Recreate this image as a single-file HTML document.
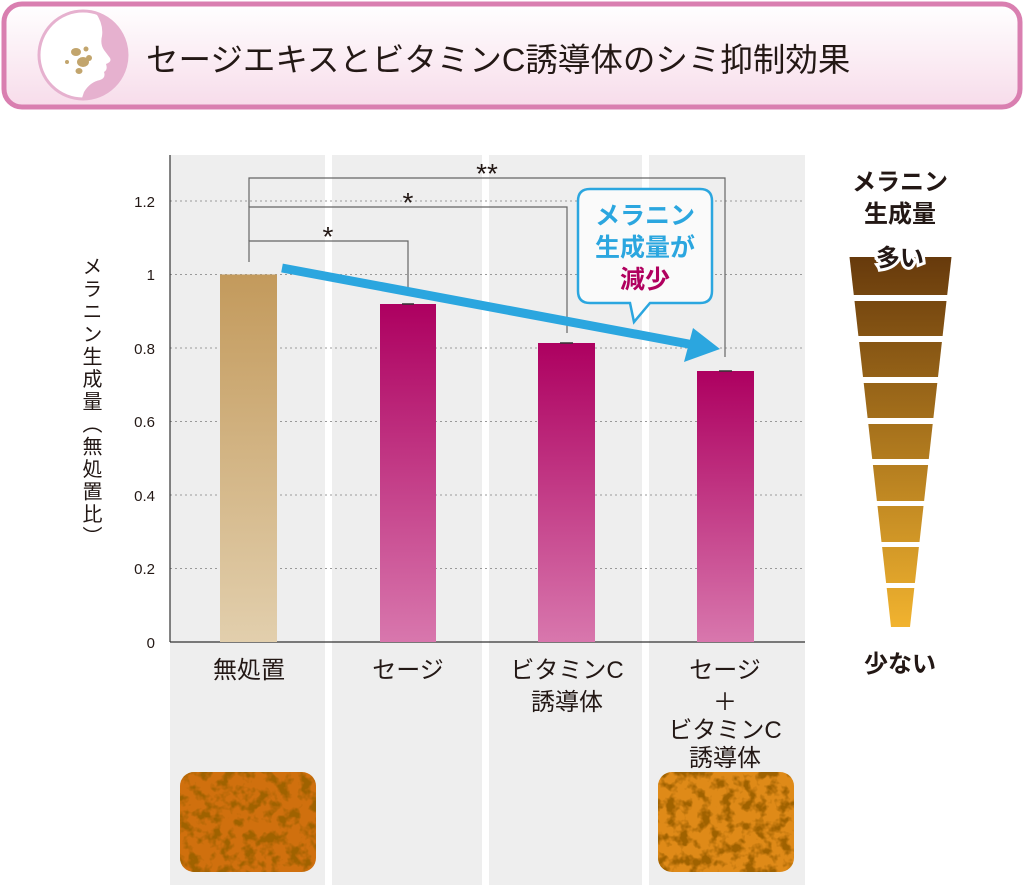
<!DOCTYPE html>
<html><head><meta charset="utf-8"><style>
body{margin:0;width:1024px;height:895px;background:#fff;overflow:hidden;position:relative}
svg{display:block}
text{font-family:"Liberation Sans","Noto Sans CJK JP",sans-serif}
.yl{position:absolute;left:76px;top:256px;writing-mode:vertical-rl;font-family:"Liberation Sans","Noto Sans CJK JP",sans-serif;font-size:20px;color:#231815;letter-spacing:2.5px;line-height:28px}
</style></head><body>
<svg width="1024" height="895" viewBox="0 0 1024 895">
<defs>
<linearGradient id="hdr" x1="0" y1="0" x2="0" y2="1"><stop offset="0" stop-color="#fff"/><stop offset="1" stop-color="#f7dcea"/></linearGradient>
<linearGradient id="tan" x1="0" y1="0" x2="0" y2="1"><stop offset="0" stop-color="#c39a5c"/><stop offset="1" stop-color="#e2cfad"/></linearGradient>
<linearGradient id="mag" x1="0" y1="0" x2="0" y2="1"><stop offset="0" stop-color="#ad0060"/><stop offset="1" stop-color="#d877ad"/></linearGradient>
<linearGradient id="fun" x1="0" y1="257" x2="0" y2="627" gradientUnits="userSpaceOnUse"><stop offset="0" stop-color="#673a0c"/><stop offset="1" stop-color="#f1b32f"/></linearGradient>
<filter id="tex" x="0" y="0" width="1" height="1"><feTurbulence type="fractalNoise" baseFrequency="0.09" numOctaves="3" seed="3"/><feColorMatrix values="0 0 0 0 0.35  0 0 0 0 0.12  0 0 0 0 0.0  0 0 0 -4 2.2"/><feComposite in2="SourceGraphic" operator="in"/></filter>
<clipPath id="c1"><rect x="180" y="772" width="136" height="100" rx="14"/></clipPath>
<clipPath id="c2"><rect x="658" y="772" width="136" height="100" rx="14"/></clipPath>
<clipPath id="cc"><circle cx="83" cy="55" r="43"/></clipPath>
</defs>
<rect x="4" y="4" width="1016" height="103" rx="18" fill="url(#hdr)" stroke="#d97fb0" stroke-width="5"/>
<circle cx="83" cy="55" r="44" fill="#fff" stroke="#e6b1cf" stroke-width="3"/>
<path clip-path="url(#cc)" d="M92 8 Q104 22 102 36 Q100 44 104 50 L110 58 Q112 62 106 64 Q108 70 104 72 Q106 78 100 80 Q90 82 84 92 L80 104 L140 104 L140 8Z" fill="#e6b1cf"/>
<g fill="#c2a56d"><ellipse cx="76" cy="52" rx="5" ry="4"/><circle cx="86" cy="49" r="2.5"/><ellipse cx="83" cy="62" rx="6" ry="5"/><ellipse cx="79" cy="71" rx="3.5" ry="3"/><circle cx="67" cy="62" r="2"/><circle cx="89" cy="58" r="3"/></g>
<text x="146" y="71" font-size="32.5" fill="#231815">セージエキスとビタミンC誘導体のシミ抑制効果</text>
<g fill="#eeeeee"><rect x="170" y="155" width="155" height="730"/><rect x="332" y="155" width="150" height="730"/><rect x="489" y="155" width="153" height="730"/><rect x="649" y="155" width="156" height="730"/></g>
<g stroke="#999" stroke-dasharray="2,3" stroke-width="1"><line x1="170" y1="201" x2="805" y2="201"/><line x1="170" y1="274.5" x2="805" y2="274.5"/><line x1="170" y1="348" x2="805" y2="348"/><line x1="170" y1="421.5" x2="805" y2="421.5"/><line x1="170" y1="495" x2="805" y2="495"/><line x1="170" y1="568.5" x2="805" y2="568.5"/></g>
<line x1="170" y1="155" x2="170" y2="642" stroke="#333" stroke-width="1.2"/>
<line x1="170" y1="642" x2="805" y2="642" stroke="#333" stroke-width="1.2"/>
<g font-size="15" fill="#231815" text-anchor="end"><text x="155" y="207">1.2</text><text x="155" y="280">1</text><text x="155" y="354">0.8</text><text x="155" y="427">0.6</text><text x="155" y="501">0.4</text><text x="155" y="574">0.2</text><text x="155" y="648">0</text></g>
<rect x="220" y="274.5" width="57" height="367.5" fill="url(#tan)"/>
<rect x="380" y="304" width="56" height="338" fill="url(#mag)"/>
<rect x="538" y="343" width="57" height="299" fill="url(#mag)"/>
<rect x="697" y="371" width="57" height="271" fill="url(#mag)"/>
<g stroke="#333" stroke-width="1.5"><line x1="402" y1="304" x2="414" y2="304"/><line x1="560" y1="343" x2="573" y2="343"/><line x1="719" y1="371" x2="732" y2="371"/></g>
<g fill="none" stroke="#666" stroke-width="1.2"><path d="M249 262V241H408V296"/><path d="M249 241V207H567V333"/><path d="M249 207V178H725V357"/></g>
<g font-size="28" fill="#231815" text-anchor="middle"><text x="328" y="246">*</text><text x="408" y="212">*</text><text x="487" y="183">**</text></g>
<line x1="282" y1="268" x2="694" y2="345" stroke="#2ba6df" stroke-width="9"/>
<polygon points="720,349 684,362 693,328" fill="#2ba6df"/>
<path d="M590 189H700Q712 189 712 201V291Q712 303 700 303H650L634 322L630 303H590Q578 303 578 291V201Q578 189 590 189Z" fill="#fafafa" stroke="#2ba6df" stroke-width="2.5"/>
<g font-size="25" font-weight="bold" text-anchor="middle"><text x="645" y="224" fill="#2ba6df">メラニン</text><text x="645" y="256" fill="#2ba6df">生成量が</text><text x="645" y="288" fill="#b0005f">減少</text></g>
<g font-size="24" fill="#231815" text-anchor="middle"><text x="249" y="678">無処置</text><text x="408" y="678">セージ</text><text x="567" y="678">ビタミンC</text><text x="567" y="710">誘導体</text><text x="725" y="678">セージ</text><text x="725" y="710">＋</text><text x="725" y="738">ビタミンC</text><text x="725" y="766">誘導体</text></g>
<g clip-path="url(#c1)"><rect x="180" y="772" width="136" height="100" fill="#d0700e"/><rect x="180" y="772" width="136" height="100" fill="#000" filter="url(#tex)"/></g>
<g clip-path="url(#c2)"><rect x="658" y="772" width="136" height="100" fill="#df8a18"/><rect x="658" y="772" width="136" height="100" fill="#000" filter="url(#tex)"/></g>
<g font-size="24" font-weight="bold" fill="#231815" text-anchor="middle"><text x="900" y="190">メラニン</text><text x="900" y="222">生成量</text></g>
<g fill="url(#fun)">
<polygon points="849.5,257 951.5,257 947.2,295 853.8,295"/>
<polygon points="854.5,301 946.5,301 942.6,336 858.4,336"/>
<polygon points="859.1,342 941.9,342 938,377 863,377"/>
<polygon points="863.7,383 937.3,383 933.4,418 867.6,418"/>
<polygon points="868.3,424 932.7,424 928.8,459 872.2,459"/>
<polygon points="872.9,465 928.1,465 924.1,501 876.9,501"/>
<polygon points="877.5,506 923.5,506 919.5,542 881.5,542"/>
<polygon points="882.1,547 918.9,547 914.9,583 886.1,583"/>
<polygon points="886.7,588 914.3,588 910,627 891,627"/>
</g>
<text x="900" y="266" font-size="24" font-weight="bold" fill="#231815" text-anchor="middle" stroke="#fff" stroke-width="6" paint-order="stroke">多い</text>
<text x="900" y="672" font-size="24" font-weight="bold" fill="#231815" text-anchor="middle">少ない</text>
</svg>
<div class="yl">メラニン生成量（無処置比）</div>
</body></html>
